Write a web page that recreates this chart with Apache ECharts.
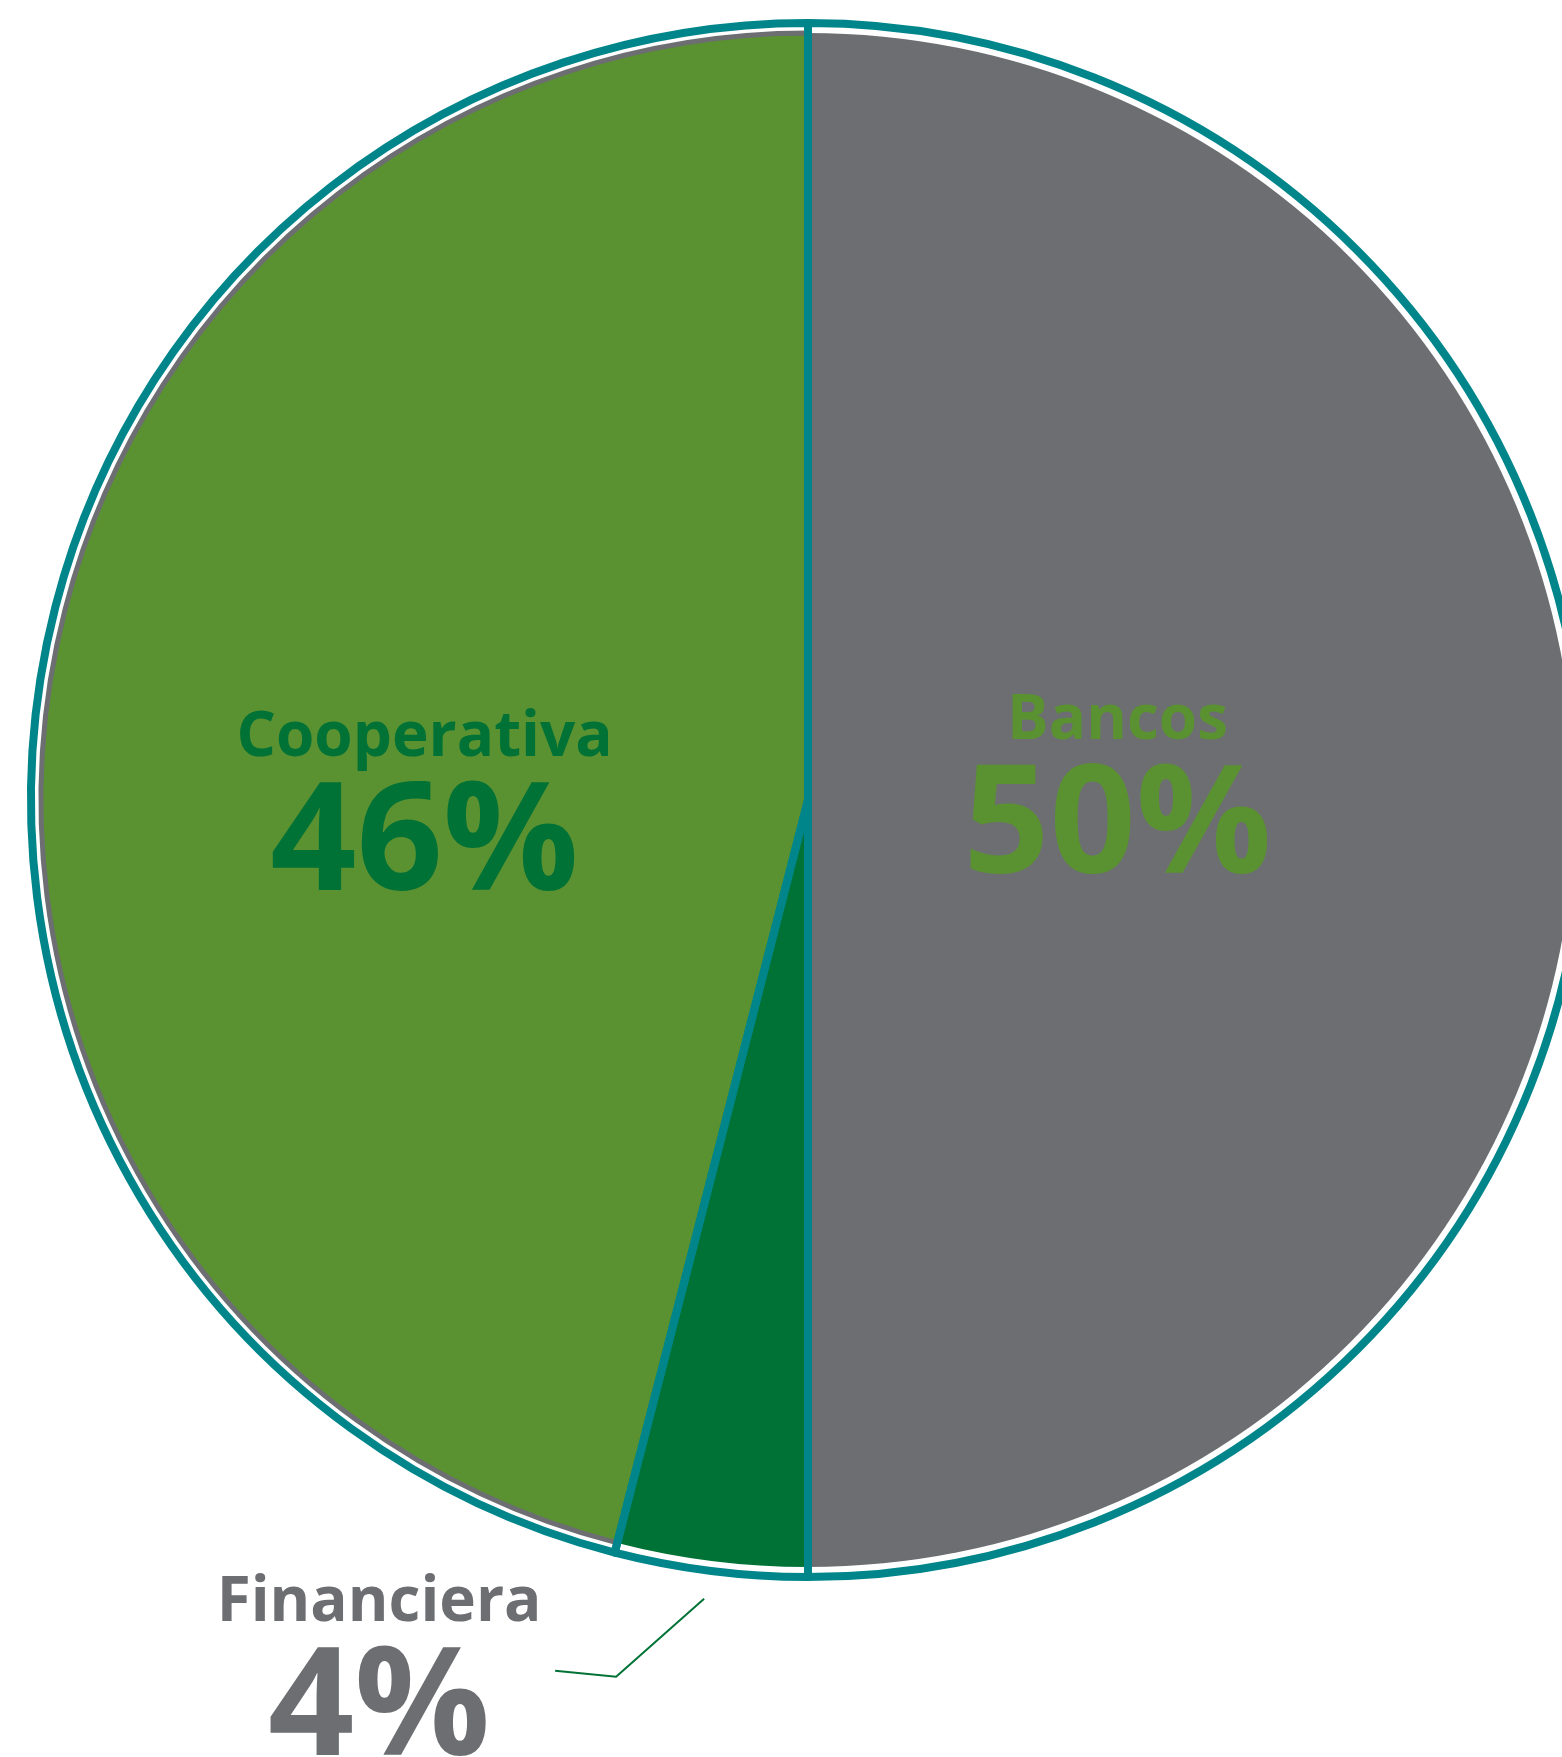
<!DOCTYPE html>
<html>
<head>
<meta charset="utf-8">
<script src="https://cdn.jsdelivr.net/npm/echarts@6/dist/echarts.min.js"></script>
<style>
html,body{margin:0;padding:0;background:#ffffff;}
#chart{width:1562px;height:1757px;}
</style>
</head>
<body>
<div id="chart"></div>
<script>
// ---- data ----
const categories = ['Bancos', 'Financiera', 'Cooperativa'];
const shares = [50, 4, 46];
const percentLabels = ['50%', '4%', '46%'];

// ---- styles ----
const sliceColors = ['#6d6e72', '#007236', '#5a9231'];
const nameColors = ['#5a9231', '#6d6e72', '#007236'];
const labelPositions = ['inside', 'outside', 'inside'];
const TEAL = '#00868a';
const FONT = '"Open Sans", "Noto Sans", sans-serif';

const mainData = categories.map((c, i) => ({
  name: c,
  value: shares[i],
  itemStyle: i === 2
    ? { color: sliceColors[i], borderColor: '#6d6e72', borderWidth: 5 }
    : { color: sliceColors[i], borderWidth: 0 },
  label: {
    show: true,
    position: labelPositions[i],
    formatter: '{n|' + c + '}\n{p|' + percentLabels[i] + '}',
    rich: {
      n: { fontFamily: FONT, fontWeight: 'bold', fontSize: 62, lineHeight: 65, color: nameColors[i], align: 'center' },
      p: { fontFamily: FONT, fontWeight: 'bold', fontSize: 151, lineHeight: 152, color: nameColors[i], align: 'center' }
    }
  },
  labelLine: { show: labelPositions[i] === 'outside', lineStyle: { color: '#007236', width: 2 } }
}));

const outlineData = categories.map((c, i) => ({ name: c, value: shares[i] }));

const chart = echarts.init(document.getElementById('chart'), null, { renderer: 'canvas' });
chart.setOption({
  backgroundColor: '#ffffff',
  animation: false,
  series: [
    {
      type: 'pie',
      z: 2,
      center: [808, 800],
      radius: [0, 767],
      startAngle: 90,
      clockwise: true,
      avoidLabelOverlap: false,
      silent: true,
      data: mainData,
      labelLine: { length: 40, length2: 40 },
      labelLayout: function (params) {
        if (params.seriesIndex !== 0) return {};
        const i = params.dataIndex;
        if (i === 0) return { dx: -77, dy: -3 };
        if (i === 2) return { dx: 0, dy: 63 };
        const pts = params.labelLinePoints;
        if (!pts || pts.length < 2) return {};
        const p0 = pts[0], p1 = pts[1];
        const vx = p1[0] - p0[0], vy = p1[1] - p0[1];
        const L = Math.hypot(vx, vy) || 1;
        const s = [p0[0] + vx / L * 38 - 3, p0[1] + vy / L * 38];
        const m = [s[0] - 88, s[1] + 78];
        const e = [m[0] - 61, m[1] - 6];
        return {
          x: e[0] - 176, y: e[1] + 9,
          align: 'center', verticalAlign: 'middle',
          labelLinePoints: [s, m, e]
        };
      }
    },
    {
      type: 'pie',
      z: 3,
      center: [808, 800],
      radius: [0, 777],
      startAngle: 90,
      clockwise: true,
      silent: true,
      label: { show: false },
      labelLine: { show: false },
      itemStyle: { color: 'rgba(0,0,0,0)', borderColor: TEAL, borderWidth: 8 },
      data: outlineData
    }
  ]
});
</script>
</body>
</html>
